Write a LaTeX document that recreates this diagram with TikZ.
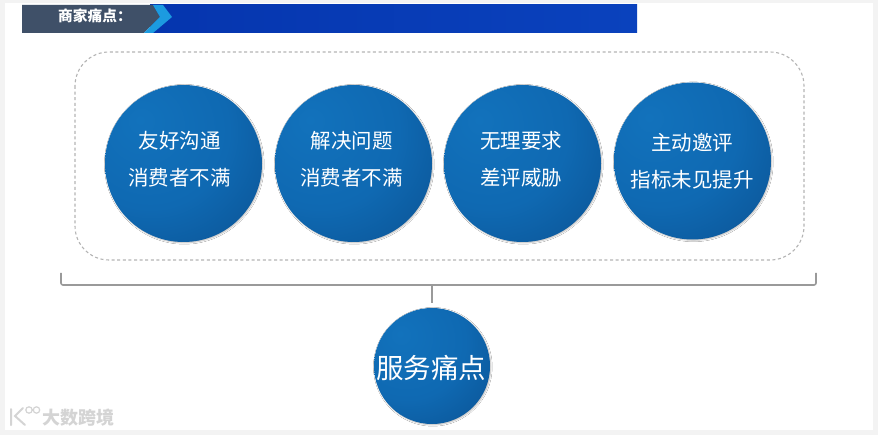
\documentclass[tikz,border=0pt]{standalone}
\usepackage{fontspec}
\setmainfont{Noto Sans CJK SC}
\usetikzlibrary{shadows.blur}
\definecolor{pagebg}{HTML}{F3F3F3}
\definecolor{discA}{HTML}{1272BC}
\definecolor{discB}{HTML}{0F69B2}
\definecolor{discC}{HTML}{0A4F8F}
\definecolor{bandL}{HTML}{0535AE}
\definecolor{bandR}{HTML}{0A42BD}
\definecolor{slate}{HTML}{3F5068}
\definecolor{chev}{HTML}{1C9BE0}
\definecolor{bracketc}{HTML}{9A9A9A}
\definecolor{dashc}{HTML}{B4B4B4}
\definecolor{wm}{HTML}{D4D4D4}
\pgfdeclareradialshading{discshade}{\pgfpoint{-14bp}{14bp}}{%
  color(0bp)=(discA); color(25bp)=(discB); color(50bp)=(discC); color(100bp)=(discC)}
\tikzset{
  x=1pt,y=-1pt,
  disc/.style={circle,minimum size=#1,inner sep=0pt,shading=discshade,
    blur shadow={shadow xshift=0.8pt,shadow yshift=-0.8pt,shadow blur steps=5,shadow blur radius=1.4pt,shadow opacity=28}},
  small/.style={text=white,align=center,inner sep=0pt,font=\fontsize{20.5}{37}\selectfont},
  large/.style={text=white,align=center,inner sep=0pt,font=\fontsize{27.5}{32}\selectfont},
  linkline/.style={draw=bracketc,line width=1.6pt},
}
\begin{document}
\begin{tikzpicture}
\useasboundingbox (0,0) rectangle (878,435);
\fill[pagebg] (0,0) rectangle (878,435);
\fill[white] (5,3) rectangle (873,430);
% banner
\shade[left color=bandL,right color=bandR] (150,5) rectangle (637,33);
\fill[slate] (22,5) -- (153,5) -- (160,17) -- (144,33) -- (22,33) -- cycle;
\fill[chev] (153,5) -- (163,5) -- (172,17) -- (153,33) -- (144,33) -- (160,17) -- cycle;
\node[text=white,font=\fontsize{14.7}{16}\bfseries\selectfont,anchor=west,inner sep=0pt] (title) at (58,15.5) {商家痛点：};
% dashed panel
\draw[dashc,line width=1.1pt,dash pattern=on 3pt off 2.6pt,rounded corners=34pt] (75,52) rectangle (804,260);
% discs
\node[disc=157pt] (d1) at (183.5,163.5) {};
\node[disc=157pt] (d2) at (353.5,163.5) {};
\node[disc=157pt] (d3) at (522.5,163.5) {};
\node[disc=157pt] (d4) at (692.5,161) {};
\node[disc=116pt] (d5) at (432,366) {};
\node[small] (t1) at (179.5,159.5) {友好沟通\\消费者不满};
\node[small] (t2) at (351.5,159.5) {解决问题\\消费者不满};
\node[small] (t3) at (521,159.5) {无理要求\\差评威胁};
\node[small] (t4) at (692,161.5) {主动邀评\\指标未见提升};
\node[large] (t5) at (431,368) {服务痛点};
% bracket
\coordinate (bl) at (61,273);
\coordinate (br) at (816,273);
\coordinate (bm) at (432,285);
\draw[linkline,rounded corners=2pt] (bl) -- (61,285) -- (816,285) -- (br);
\draw[linkline] (bm) -- (d5.north |- 0,303);
% watermark
\draw[wm,line width=2pt,line cap=round] (11,409) -- (11,425) (23,408) -- (15,416) -- (25,425);
\draw[wm,line width=1.2pt] (29,410) circle (3.2pt) (36.5,410) circle (3.2pt);
\node[text=wm,font=\fontsize{18}{19}\bfseries\selectfont,anchor=west,inner sep=0pt] (mark) at (42,417.5) {大数跨境};
\end{tikzpicture}
\end{document}
